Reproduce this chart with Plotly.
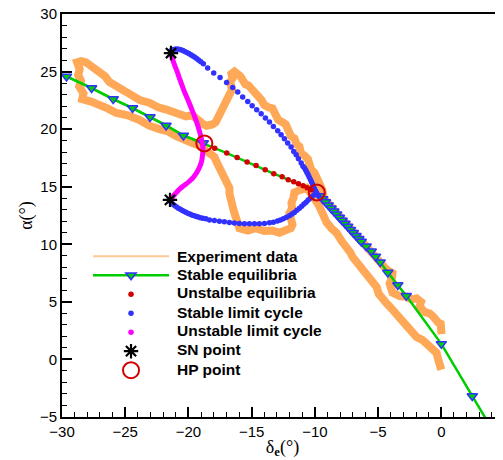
import plotly.graph_objects as go

# ---------------- data ----------------
exp_x = [0.02, -0.05, -0.25, -0.40, -0.62, -0.93, -1.30, -1.72, -1.60, -1.96, -2.35, -2.75, -3.30, -3.86, -4.00, -4.09,
         -3.90, -3.86, -4.33, -4.60, -5.00, -5.50, -6.00, -6.50, -7.00, -7.50, -8.00, -8.50, -8.90, -9.30, -9.40, -9.64,
         -9.85, -10.03, -10.30, -10.43, -10.55, -10.82, -11.10, -11.22, -11.45, -11.62, -11.90, -12.09, -12.30, -12.57,
         -12.90, -13.12, -13.35, -13.67, -14.00, -14.23, -14.50, -14.78, -15.00, -15.26, -15.50, -15.73, -15.90, -16.13,
         -16.36, -16.60, -16.52, -16.70, -16.60, -16.55, -16.76, -16.95, -17.08, -17.20, -17.40, -17.50, -17.71, -17.85,
         -18.11, -18.58, -18.90, -19.14, -19.40, -19.69, -20.20, -20.72, -21.20, -21.75, -22.40, -23.10, -23.80, -24.44,
         -24.90, -25.47, -25.80, -26.26, -26.60, -27.05, -27.40, -27.69, -28.10, -28.48, -28.80, -28.60, -28.72, -28.50,
         -28.64, -28.30, -28.40, -27.70, -27.05, -26.40, -25.70, -24.80, -23.88, -23.10, -22.30, -21.60, -20.96, -20.30,
         -19.69, -19.20, -18.74, -18.30, -17.95, -17.75, -17.55, -17.30, -17.16, -16.90, -16.76, -16.75, -16.60, -16.40,
         -16.44, -16.30, -16.21, -16.10, -15.97, -15.30, -14.70, -14.00, -13.36, -12.80, -12.25, -11.90, -11.77, -11.95,
         -12.01, -11.80, -11.85, -11.70, -11.62, -11.22, -10.66, -10.30, -10.03, -9.70, -9.40, -9.25, -9.08, -8.70,
         -8.29, -7.90, -7.50, -7.20, -7.02, -6.70, -6.47, -6.10, -5.68, -5.35, -5.12, -4.95, -4.65, -4.35, -4.09, -3.70,
         -3.30, -2.90, -2.51, -2.20, -1.96, -1.50, -1.16, -0.69, -0.37, -0.25, -0.13, 0.00]
exp_y = [2.20, 3.10, 3.20, 3.50, 3.70, 4.00, 4.10, 4.60, 5.00, 5.30, 5.20, 5.45, 5.50, 5.80, 6.20, 6.60,
         7.10, 7.50, 7.80, 8.10, 8.60, 9.20, 9.90, 10.50, 11.10, 11.70, 12.30, 13.00, 13.50, 14.00, 14.70, 15.40,
         15.70, 16.20, 16.50, 16.90, 17.40, 17.70, 17.90, 18.50, 18.70, 19.20, 19.40, 19.90, 20.40, 20.60,
         20.80, 21.30, 21.80, 21.90, 22.10, 22.55, 22.90, 23.10, 23.40, 23.80, 23.90, 24.40, 24.60, 24.80,
         25.00, 24.80, 24.40, 24.10, 23.80, 23.40, 23.00, 22.60, 22.30, 21.90, 21.70, 21.30, 21.00, 20.60,
         20.40, 20.30, 20.50, 20.70, 20.90, 21.20, 21.10, 21.35, 21.60, 21.70, 21.90, 22.30, 22.50, 22.90,
         23.30, 23.50, 23.90, 24.10, 24.60, 25.00, 25.10, 25.40, 25.80, 25.90, 25.80, 25.20, 24.70, 24.20,
         23.70, 23.10, 22.60, 22.40, 22.00, 21.80, 21.40, 21.20, 20.80, 20.30, 20.00, 19.80, 19.40, 19.00,
         18.80, 18.60, 18.20, 17.90, 17.60, 17.10, 16.60, 16.30, 15.80, 15.30, 14.90, 14.40, 13.90, 13.40,
         13.00, 12.50, 12.10, 11.70, 11.40, 11.20, 11.40, 11.15, 11.20, 11.00, 11.20, 11.40, 11.70, 12.20,
         12.70, 13.10, 13.60, 14.00, 14.50, 14.70, 14.90, 14.40, 14.00, 13.40, 12.70, 12.30, 11.90, 11.40,
         11.00, 10.30, 9.80, 9.30, 8.90, 8.50, 8.00, 7.70, 7.20, 6.80, 6.30, 5.70, 5.20, 4.90, 4.60, 4.10,
         3.70, 3.30, 2.80, 2.40, 1.95, 1.70, 1.35, 1.10, 0.56, 0.00, -0.65, -0.90]

stable_left_x = [-29.64, -27.66, -25.95, -24.42, -23.04, -21.77, -20.40, -18.82]
stable_left_y = [24.58, 23.57, 22.61, 21.83, 21.05, 20.32, 19.45, 18.79]
stable_right_x = [-9.60, -9.38, -9.16, -8.94, -8.72, -8.50, -8.28, -8.06, -7.84, -7.62, -7.40, -7.18, -6.96,
                  -6.74, -6.52, -6.33, -5.94, -5.54, -5.20, -4.83, -4.23, -3.44, -2.77, 0.00, 2.45]
stable_right_y = [14.20, 13.93, 13.67, 13.40, 13.13, 12.87, 12.60, 12.33, 12.07, 11.80, 11.54, 11.27, 11.00,
                  10.74, 10.47, 10.24, 9.82, 9.40, 8.95, 8.45, 7.54, 6.47, 5.52, 1.35, -3.17]
eq_start = (-30.0, 24.76)
eq_end = (3.60, -5.30)

unstable_x = [-17.92, -16.97, -16.15, -15.36, -14.65, -13.93, -13.25, -12.59, -12.11, -11.67, -11.30, -10.93, -10.61, -10.30]
unstable_y = [18.35, 17.92, 17.54, 17.14, 16.84, 16.47, 16.12, 15.86, 15.60, 15.43, 15.25, 15.08, 14.90, 14.73]

lc_upper_x = [-21.38, -21.24, -21.08, -20.92, -20.76, -20.60, -20.44, -20.29, -20.13, -19.97, -19.81, -19.65, -19.49,
              -19.33, -19.18, -19.02, -18.82, -18.48, -18.00, -17.50, -16.98, -16.50, -16.10, -15.71, -15.31, -14.96,
              -14.60, -14.25, -13.91, -13.59, -13.28, -12.94, -12.67, -12.41, -12.15, -11.88, -11.67, -11.48, -11.30,
              -11.08, -10.94, -10.82, -10.72, -10.63, -10.53, -10.44, -10.35, -10.27, -10.19, -10.11, -10.03, -9.95,
              -9.87, -9.79, -9.71]
lc_upper_y = [26.81, 26.90, 26.94, 26.96, 26.94, 26.90, 26.83, 26.75, 26.66, 26.57, 26.46, 26.35, 26.24,
              26.12, 25.99, 25.85, 25.68, 25.31, 24.87, 24.49, 24.06, 23.62, 23.22, 22.79, 22.40, 22.03,
              21.68, 21.34, 20.96, 20.61, 20.23, 19.86, 19.51, 19.16, 18.79, 18.44, 18.06, 17.77, 17.42,
              17.05, 16.77, 16.62, 16.43, 16.23, 16.03, 15.83, 15.63, 15.43, 15.23, 15.03, 14.83, 14.64,
              14.47, 14.32, 14.21]
lc_lower_x = [-21.39, -21.27, -21.12, -20.96, -20.80, -20.64, -20.48, -20.32, -20.17, -20.01, -19.85, -19.69, -19.53,
              -19.37, -19.22, -19.06, -18.86, -18.62, -18.34, -17.95, -17.55, -17.16, -16.76, -16.37, -15.97, -15.57,
              -15.18, -14.78, -14.39, -13.99, -13.59, -13.28, -12.96, -12.72, -12.49, -12.25, -12.01, -11.81, -11.62,
              -11.42, -11.22, -11.04, -10.86, -10.69, -10.53, -10.37, -10.21, -10.06, -9.90]
lc_lower_y = [13.69, 13.51, 13.38, 13.25, 13.14, 13.04, 12.93, 12.84, 12.75, 12.67, 12.60, 12.53, 12.47,
              12.41, 12.36, 12.31, 12.26, 12.21, 12.12, 12.06, 12.01, 11.95, 11.89, 11.84, 11.80, 11.78,
              11.78, 11.78, 11.78, 11.80, 11.86, 11.92, 12.02, 12.10, 12.21, 12.34, 12.47, 12.62, 12.77,
              12.95, 13.12, 13.31, 13.49, 13.66, 13.84, 13.99, 14.15, 14.30, 14.43]

ulc_upper_x = [-21.38, -21.24, -21.08, -20.89, -20.70, -20.48, -20.25, -20.01, -19.77, -19.53, -19.32, -19.14, -18.99, -18.90, -18.85]
ulc_upper_y = [26.55, 26.03, 25.51, 24.99, 24.38, 23.73, 23.07, 22.47, 21.81, 21.16, 20.51, 19.86, 19.25, 18.73, 18.29]
ulc_lower_x = [-18.85, -18.88, -18.95, -19.11, -19.33, -19.61, -19.97, -20.32, -20.68, -20.98, -21.24, -21.39]
ulc_lower_y = [18.29, 17.77, 17.25, 16.73, 16.25, 15.82, 15.43, 15.12, 14.82, 14.47, 14.12, 13.77]

sn_x = [-21.38, -21.46]
sn_y = [26.61, 13.86]
hp_x = [-18.74, -9.85]
hp_y = [18.76, 14.50]

x_tickvals = [-30, -25, -20, -15, -10, -5, 0, 5]
y_tickvals = [-5, 0, 5, 10, 15, 20, 25, 30]

legend_names = ["Experiment data", "Stable equilibria", "Unstalbe equilibria", "Stable limit cycle",
                "Unstable limit cycle", "SN point", "HP point"]

# ---------------- colours ----------------
ORANGE = "rgb(255,168,88)"
GREEN = "rgb(0,205,0)"
BLUE = "rgb(50,50,255)"
RED = "rgb(210,0,0)"
MAGENTA = "rgb(255,0,255)"

fig = go.Figure()

# experiment data
fig.add_trace(go.Scatter(x=exp_x, y=exp_y, mode="lines", line=dict(color=ORANGE, width=8),
                         showlegend=False, hoverinfo="skip"))
fig.add_trace(go.Scatter(x=[None], y=[None], mode="lines", name=" ",
                         line=dict(color="rgb(255,200,150)", width=2), legendrank=1))

# equilibrium green line (through unstable range too)
eq_line_x = [eq_start[0]] + stable_left_x + unstable_x + [hp_x[1]] + stable_right_x + [eq_end[0]]
eq_line_y = [eq_start[1]] + stable_left_y + unstable_y + [hp_y[1]] + stable_right_y + [eq_end[1]]
fig.add_trace(go.Scatter(x=eq_line_x, y=eq_line_y, mode="lines", line=dict(color=GREEN, width=2.5),
                         showlegend=False, hoverinfo="skip"))

tri = dict(symbol="triangle-down", size=9, color=GREEN, line=dict(color=BLUE, width=1.5))
fig.add_trace(go.Scatter(x=stable_left_x, y=stable_left_y, mode="lines+markers", name="  ",
                         line=dict(color=GREEN, width=2.5), marker=tri, legendrank=2))
fig.add_trace(go.Scatter(x=stable_right_x, y=stable_right_y, mode="markers", marker=tri, showlegend=False))

# stable limit cycle
fig.add_trace(go.Scatter(x=lc_upper_x + lc_lower_x, y=lc_upper_y + lc_lower_y, mode="markers",
                         name="    ", marker=dict(color=BLUE, size=5.5), legendrank=4))

# unstable limit cycle
fig.add_trace(go.Scatter(x=ulc_upper_x + ulc_lower_x, y=ulc_upper_y + ulc_lower_y, mode="lines",
                         line=dict(color=MAGENTA, width=5, shape="spline"), showlegend=False))
fig.add_trace(go.Scatter(x=[None], y=[None], mode="markers", name="     ",
                         marker=dict(color=MAGENTA, size=5.5), legendrank=5))

# unstable equilibria
fig.add_trace(go.Scatter(x=unstable_x, y=unstable_y, mode="markers", name="   ",
                         marker=dict(color=RED, size=5.5), legendrank=3))

# HP and SN points
fig.add_trace(go.Scatter(x=hp_x, y=hp_y, mode="markers", name="       ",
                         marker=dict(symbol="circle-open", size=16, color=RED, line=dict(width=2)), legendrank=7))
fig.add_trace(go.Scatter(x=sn_x, y=sn_y, mode="markers", name="      ",
                         marker=dict(symbol="asterisk-open", size=12, color="black", line=dict(width=2.2, color="black")),
                         legendrank=6))

# legend labels as text
label_y = [0.3995, 0.3536, 0.3077, 0.2605, 0.2146, 0.1687, 0.1191]
for name, ly in zip(legend_names, label_y):
    fig.add_annotation(x=0.2562, y=ly, xref="paper", yref="paper", xanchor="left", yanchor="middle",
                       text="<b>" + name + "</b>", showarrow=False,
                       font=dict(family="Liberation Sans, Arial", size=15.5, color="black"))

axis_common = dict(showgrid=False, zeroline=False, showline=True, linecolor="black", linewidth=2,
                   ticks="inside", ticklen=10, tickwidth=2, tickcolor="black", automargin=False,
                   ticklabeloverflow="allow",
                   tickfont=dict(family="Liberation Sans, Arial", size=15, color="black"),
                   minor=dict(ticks="inside", ticklen=5, tickwidth=1, tickcolor="black", dtick=1))

fig.update_xaxes(range=[-30, 4.88], tickvals=x_tickvals, mirror=True, **axis_common,
                 title=dict(text="δ<sub><b>e</b></sub>(°)", font=dict(family="Liberation Serif, Times New Roman", size=18, color="black"),
                            standoff=1))
fig.update_yaxes(range=[-5, 30], tickvals=y_tickvals, **axis_common,
                 title=dict(text="α(°)", font=dict(family="Liberation Serif, Times New Roman", size=18, color="black"),
                            standoff=3))

# the page body has an 8px margin, so the figure is 495x452 and sits at (8, 8)
fig.update_layout(
    width=495, height=452, autosize=False,
    margin=dict(l=54, r=0, t=6, b=43),
    plot_bgcolor="white", paper_bgcolor="white",
    legend=dict(x=0.059, y=0.435, xanchor="left", yanchor="top", bgcolor="rgba(0,0,0,0)",
                font=dict(family="Liberation Sans, Arial", size=12, color="black"),
                itemwidth=76, tracegroupgap=0),
)

fig.write_html("out.html")
